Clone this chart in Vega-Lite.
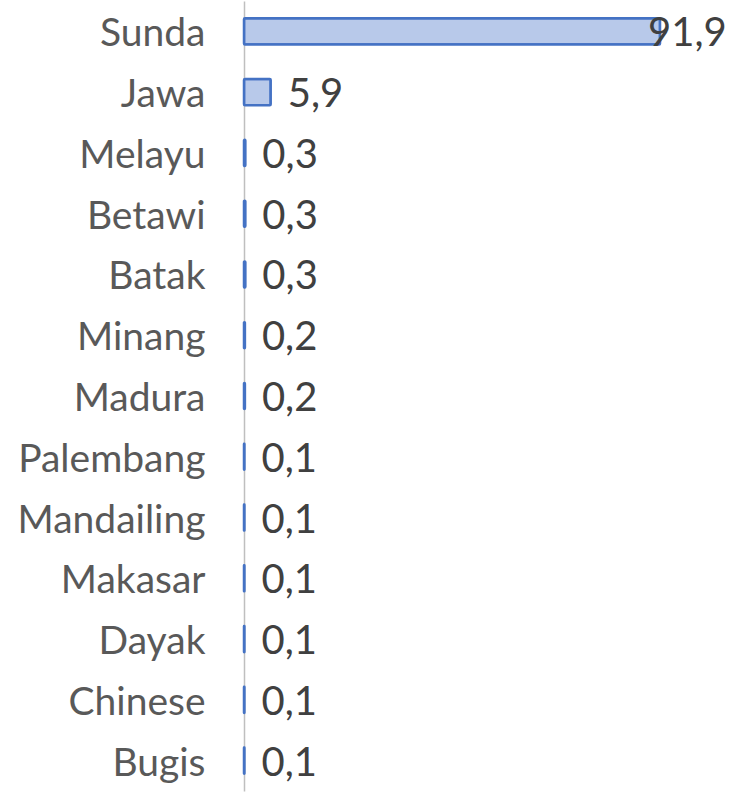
{
  "$schema": "https://vega.github.io/schema/vega-lite/v6.json",
  "autosize": {"type": "none"},
  "width": 440,
  "height": 790,
  "padding": {"left": 244, "top": 1, "right": 46, "bottom": 2},
  "background": "white",
  "config": {"view": {"stroke": null}, "font": "Lato"},
  "data": {
    "values": [
      {"etnis": "Sunda", "persen": 91.9, "label": "91,9"},
      {"etnis": "Jawa", "persen": 5.9, "label": "5,9"},
      {"etnis": "Melayu", "persen": 0.3, "label": "0,3"},
      {"etnis": "Betawi", "persen": 0.3, "label": "0,3"},
      {"etnis": "Batak", "persen": 0.3, "label": "0,3"},
      {"etnis": "Minang", "persen": 0.2, "label": "0,2"},
      {"etnis": "Madura", "persen": 0.2, "label": "0,2"},
      {"etnis": "Palembang", "persen": 0.1, "label": "0,1"},
      {"etnis": "Mandailing", "persen": 0.1, "label": "0,1"},
      {"etnis": "Makasar", "persen": 0.1, "label": "0,1"},
      {"etnis": "Dayak", "persen": 0.1, "label": "0,1"},
      {"etnis": "Chinese", "persen": 0.1, "label": "0,1"},
      {"etnis": "Bugis", "persen": 0.1, "label": "0,1"}
    ]
  },
  "encoding": {
    "y": {
      "field": "etnis",
      "type": "nominal",
      "sort": null,
      "scale": {"paddingInner": 0.57, "paddingOuter": 0.285},
      "axis": {
        "title": null,
        "ticks": false,
        "domainColor": "#bfbfbf",
        "domainWidth": 1.5,
        "labelFontSize": 39,
        "labelColor": "#595959",
        "labelPadding": 39,
        "labelLimit": 400,
        "labelOffset": 3,
        "labelFont": "Lato"
      }
    },
    "x": {
      "field": "persen",
      "type": "quantitative",
      "scale": {"domain": [0, 97.2], "nice": false},
      "axis": null
    }
  },
  "layer": [
    {
      "mark": {"type": "bar", "fill": "#b8c9ea", "stroke": "#4472c4", "strokeWidth": 2.5, "cornerRadius": 1}
    },
    {
      "transform": [{"filter": "datum.persen > 50"}],
      "mark": {"type": "text", "align": "left", "dx": -12, "dy": 3, "fontSize": 40, "color": "#404040", "font": "Lato"},
      "encoding": {"text": {"field": "label"}}
    },
    {
      "transform": [{"filter": "datum.persen <= 50"}],
      "mark": {"type": "text", "align": "left", "dx": 17, "dy": 3, "fontSize": 40, "color": "#404040", "font": "Lato"},
      "encoding": {"text": {"field": "label"}}
    }
  ]
}
